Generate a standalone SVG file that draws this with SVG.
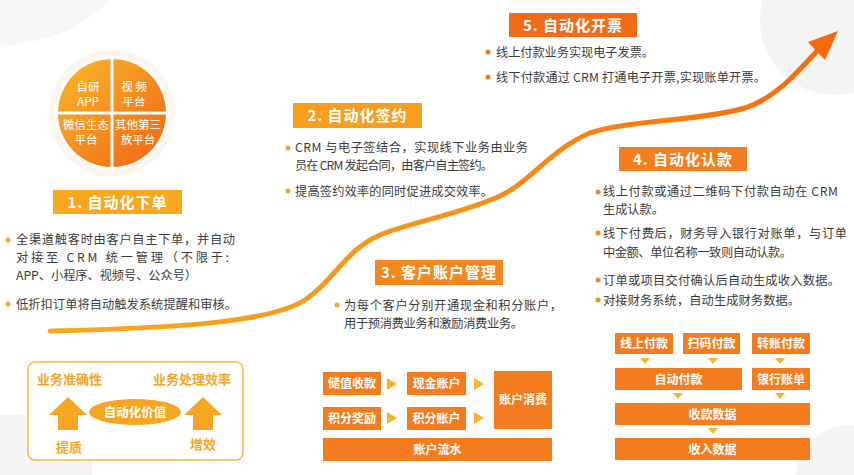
<svg xmlns="http://www.w3.org/2000/svg" width="854" height="475" viewBox="0 0 854 475">
<defs>
<linearGradient id="curveGrad" gradientUnits="userSpaceOnUse" x1="50" y1="0" x2="840" y2="0">
<stop offset="0" stop-color="#f6aa20"/>
<stop offset="0.5" stop-color="#f6921a"/>
<stop offset="1" stop-color="#f76a0c"/>
</linearGradient>
<linearGradient id="pieGrad" gradientUnits="userSpaceOnUse" x1="65" y1="65" x2="165" y2="165">
<stop offset="0" stop-color="#f9b52a"/>
<stop offset="1" stop-color="#ef6516"/>
</linearGradient>
<style>
.body{font-family:"Noto Sans CJK SC","Noto Sans",sans-serif;font-size:12.2px;fill:#3c3c3c}
.hdr{font-family:"Noto Sans CJK SC","Noto Sans",sans-serif;font-size:15px;font-weight:bold;fill:#fff;text-anchor:middle;letter-spacing:1px}
.box{font-family:"Noto Sans CJK SC","Noto Sans",sans-serif;font-size:12px;font-weight:bold;fill:#fff;text-anchor:middle}
.pie{font-family:"Noto Sans CJK SC","Noto Sans",sans-serif;font-size:11.5px;fill:#fff;text-anchor:middle}
.val{font-family:"Noto Sans CJK SC","Noto Sans",sans-serif;font-size:13px;font-weight:bold;fill:#f6a623}
.dot{fill:#f6a623}
.fb{fill:#f47c1e}
.tri{fill:#f7b32b}
.bg{fill:#f4f4f4}
</style>
</defs>
<rect width="854" height="475" fill="#ffffff"/>
<g id="background">
<path class="bg" d="M0,0 H110 Q80,30 40,40 Q15,45 0,48 Z" opacity="0.7"/>
<circle class="bg" cx="835" cy="20" r="75"/>
<rect class="bg" x="0" y="415" width="92" height="60"/>
<circle class="bg" cx="850" cy="480" r="55"/>
</g>

<g id="connectors">
<path d="M50,331 C180,328 270,322 305,300 C335,280 345,250 380,235 C410,222 455,216 500,196 C530,182 550,150 590,133 C630,120 700,121 745,108 C775,98 795,75 818,50" fill="none" stroke="url(#curveGrad)" stroke-width="5" stroke-linecap="round"/>
<polygon points="838,31 808,42 825,60" fill="#f76a0c"/>
</g>

<g id="channels">
<circle cx="112" cy="113" r="60" fill="none" stroke="#fbeee0" stroke-width="6" opacity="0.6"/>
<circle cx="112" cy="113" r="54" fill="url(#pieGrad)"/>
<rect x="110.5" y="55" width="3" height="116" fill="#fff"/>
<rect x="54" y="111.5" width="116" height="3" fill="#fff"/>
<text class="pie" x="88" y="91">自研</text>
<text class="pie" x="88" y="106">APP</text>
<text class="pie" x="134" y="91">视 频</text>
<text class="pie" x="134" y="106">平台</text>
<text class="pie" x="86" y="129">微信生态</text>
<text class="pie" x="86" y="144">平台</text>
<text class="pie" x="138" y="129">其他第三</text>
<text class="pie" x="138" y="144">放平台</text>
</g>

<g id="step1">
<rect x="53" y="190" width="129" height="24" fill="#f8a71f"/>
<text class="hdr" x="117.5" y="207.5">1. 自动化下单</text>
<circle class="dot" cx="8" cy="240" r="2.5"/>
<text class="body" x="16" y="244" textLength="219" lengthAdjust="spacing">全渠道触客时由客户自主下单，并自动</text>
<text class="body" x="16" y="262" textLength="213" lengthAdjust="spacing">对接至 CRM 统一管理（不限于:</text>
<text class="body" x="16" y="280" textLength="181" lengthAdjust="spacing">APP、小程序、视频号、公众号）</text>
<circle class="dot" cx="8" cy="304" r="2.5"/>
<text class="body" x="16" y="308.5" textLength="221" lengthAdjust="spacing">低折扣订单将自动触发系统提醒和审核。</text>
</g>

<g id="value">
<rect x="28" y="362" width="215" height="98" rx="7" fill="#fff" stroke="#f8b94a" stroke-width="1.5"/>
<text class="val" x="37" y="384">业务准确性</text>
<text class="val" x="153" y="384">业务处理效率</text>
<polygon points="68,397 87,415 78,415 78,430 58,430 58,415 49,415" fill="#f6a623"/>
<polygon points="203,397 222,415 213,415 213,430 193,430 193,415 184,415" fill="#f6a623"/>
<ellipse cx="135" cy="412" rx="46" ry="13" fill="#f6a623"/>
<text class="box" x="135" y="416.5" style="font-size:12.5px">自动化价值</text>
<text class="val" x="69" y="452" text-anchor="middle">提质</text>
<text class="val" x="203" y="449" text-anchor="middle">增效</text>
</g>

<g id="step2">
<rect x="293" y="103" width="129" height="25" fill="#f89d1e"/>
<text class="hdr" x="357.5" y="121">2. 自动化签约</text>
<circle class="dot" cx="288" cy="148" r="2.5"/>
<text class="body" x="295" y="152" textLength="233" lengthAdjust="spacing">CRM 与电子签结合，实现线下业务由业务</text>
<text class="body" x="295" y="170" textLength="198" lengthAdjust="spacing">员在 CRM 发起合同，由客户自主签约。</text>
<circle class="dot" cx="288" cy="191" r="2.5"/>
<text class="body" x="295" y="195.5" textLength="198" lengthAdjust="spacing">提高签约效率的同时促进成交效率。</text>
</g>

<g id="step3">
<rect x="375" y="260" width="128" height="25" fill="#f5871f"/>
<text class="hdr" x="439" y="278">3. 客户账户管理</text>
<circle class="dot" cx="337" cy="305" r="2.5"/>
<text class="body" x="344" y="309.5" textLength="218" lengthAdjust="spacing">为每个客户分别开通现金和积分账户，</text>
<text class="body" x="344" y="328" textLength="179" lengthAdjust="spacing">用于预消费业务和激励消费业务。</text>
</g>

<g id="account-flow">
<rect class="fb" x="323" y="372" width="58" height="23"/>
<text class="box" x="352" y="388">储值收款</text>
<rect class="fb" x="407" y="372" width="59" height="23"/>
<text class="box" x="436.5" y="388">现金账户</text>
<rect class="fb" x="494" y="371" width="58" height="58"/>
<text class="box" x="523" y="404">账户消费</text>
<rect class="fb" x="323" y="407" width="58" height="23"/>
<text class="box" x="352" y="423">积分奖励</text>
<rect class="fb" x="407" y="407" width="59" height="23"/>
<text class="box" x="436.5" y="423">积分账户</text>
<rect class="fb" x="323" y="438" width="229" height="23"/>
<text class="box" x="437.5" y="454">账户流水</text>
<polygon class="tri" points="387,378 397,384 387,390"/>
<polygon class="tri" points="474,378 484,384 474,390"/>
<polygon class="tri" points="387,412 397,418 387,424"/>
<polygon class="tri" points="474,412 484,418 474,424"/>
</g>

<g id="step5">
<rect x="509" y="13" width="128" height="24" fill="#f26c17"/>
<text class="hdr" x="573" y="30.5">5. 自动化开票</text>
<circle class="dot" cx="488" cy="52" r="2.5" style="fill:#f47a1c"/>
<text class="body" x="496" y="56.5" textLength="158" lengthAdjust="spacing">线上付款业务实现电子发票。</text>
<circle class="dot" cx="488" cy="77" r="2.5" style="fill:#f47a1c"/>
<text class="body" x="496" y="81.5" textLength="270" lengthAdjust="spacing">线下付款通过 CRM 打通电子开票,实现账单开票。</text>
</g>

<g id="step4">
<rect x="619" y="147" width="128" height="24" fill="#f47e1e"/>
<text class="hdr" x="683" y="165">4. 自动化认款</text>
<circle class="dot" cx="598" cy="192" r="2.5" style="fill:#f58a1f"/>
<text class="body" x="603" y="196" textLength="235" lengthAdjust="spacing">线上付款或通过二维码下付款自动在  CRM</text>
<text class="body" x="603" y="214">生成认款。</text>
<circle class="dot" cx="598" cy="233" r="2.5" style="fill:#f58a1f"/>
<text class="body" x="603" y="237.5" textLength="244" lengthAdjust="spacing">线下付费后，财务导入银行对账单，与订单</text>
<text class="body" x="603" y="257" textLength="189" lengthAdjust="spacing">中金额、单位名称一致则自动认款。</text>
<circle class="dot" cx="598" cy="280" r="2.5" style="fill:#f58a1f"/>
<text class="body" x="603" y="284.5" textLength="237" lengthAdjust="spacing">订单或项目交付确认后自动生成收入数据。</text>
<circle class="dot" cx="598" cy="300" r="2.5" style="fill:#f58a1f"/>
<text class="body" x="603" y="304.5" textLength="197" lengthAdjust="spacing">对接财务系统，自动生成财务数据。</text>
</g>

<g id="payment-flow">
<rect class="fb" x="615" y="333" width="58" height="21"/>
<text class="box" x="644" y="348">线上付款</text>
<rect class="fb" x="683" y="333" width="57" height="21"/>
<text class="box" x="711.5" y="348">扫码付款</text>
<rect class="fb" x="752" y="333" width="58" height="21"/>
<text class="box" x="781" y="348">转账付款</text>
<rect class="fb" x="615" y="368" width="127" height="22"/>
<text class="box" x="678.5" y="383.5">自动付款</text>
<rect class="fb" x="752" y="368" width="58" height="22"/>
<text class="box" x="781" y="383.5">银行账单</text>
<rect class="fb" x="615" y="403" width="195" height="22"/>
<text class="box" x="712.5" y="418.5">收款数据</text>
<rect class="fb" x="615" y="438" width="195" height="22"/>
<text class="box" x="712.5" y="453.5">收入数据</text>
<polygon class="tri" points="640,358 650,358 645,364"/>
<polygon class="tri" points="708,358 718,358 713,364"/>
<polygon class="tri" points="775,358 785,358 780,364"/>
<polygon class="tri" points="673,393 683,393 678,399"/>
<polygon class="tri" points="775,393 785,393 780,399"/>
<polygon class="tri" points="708,428 718,428 713,434"/>
</g>
</svg>
